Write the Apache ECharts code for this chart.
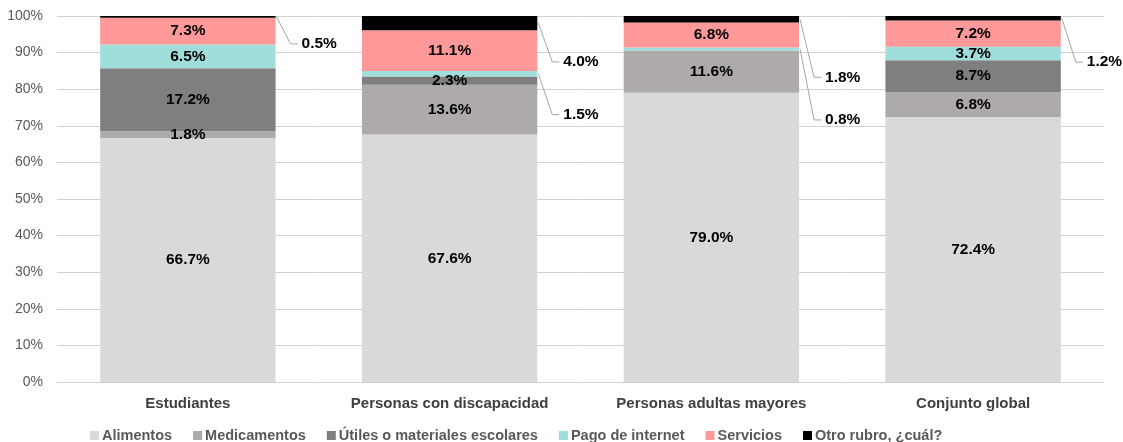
<!DOCTYPE html>
<html><head><meta charset="utf-8">
<script src="https://cdn.jsdelivr.net/npm/echarts@6/dist/echarts.min.js"></script>
<style>html,body{margin:0;padding:0;background:#fff}#c{width:1123px;height:442px}</style>
</head><body><div id="c"></div>
<script>
const categories = ['Estudiantes','Personas con discapacidad','Personas adultas mayores','Conjunto global'];
const seriesNames = ['Alimentos','Medicamentos','Útiles o materiales escolares','Pago de internet','Servicios','Otro rubro, ¿cuál?'];
const alimentos    = [66.7, 67.6, 79.0, 72.4];
const medicamentos = [1.8, 13.6, 11.6, 6.8];
const utiles       = [17.2, 2.3, 0.0, 8.7];
const internet     = [6.5, 1.5, 0.8, 3.7];
const servicios    = [7.3, 11.1, 6.8, 7.2];
const otro         = [0.5, 4.0, 1.8, 1.2];
const yTickValues  = [0,10,20,30,40,50,60,70,80,90,100];
// values labelled outside the bar with a leader line: [seriesIndex, categoryIndex]
const callouts = [[5,0],[5,1],[3,1],[5,2],[3,2],[5,3]];

// layout / style (not data)
const calloutDy = [27, 39, 41, 58, 71, 44];
const colors = ['#d9d9d9','#aeaaaa','#7f7f7f','#a0dedb','#ff9999','#000000'];
const FONT = '"Liberation Sans", Arial, sans-serif';

const allSeries = [alimentos, medicamentos, utiles, internet, servicios, otro];
const isCallout = (s,c) => callouts.some(k => k[0]===s && k[1]===c);

const barSeries = allSeries.map((vals, si) => ({
  name: seriesNames[si],
  type: 'bar',
  stack: 'total',
  barWidth: '67%',
  itemStyle: { color: colors[si] },
  label: {
    show: true, position: 'inside', color: '#000',
    fontFamily: FONT, fontWeight: 'bold', fontSize: 15.5,
    formatter: p => p.value.toFixed(1) + '%'
  },
  data: vals.map((v, ci) => (v === 0 || isCallout(si, ci)) ? { value: v, label: { show: false } } : v)
}));

const calloutData = callouts.map(([si, ci], k) => {
  let below = 0;
  for (let s = 0; s < si; s++) below += allSeries[s][ci];
  const v = allSeries[si][ci];
  return [ci, below + v / 2, v, calloutDy[k]];
});

const calloutSeries = {
  type: 'custom',
  clip: false,
  z: 10,
  silent: true,
  data: calloutData,
  renderItem: (params, api) => {
    const p = api.coord([api.value(0), api.value(1)]);
    const bw = api.size([1, 0])[0] * 0.67;
    const x0 = p[0] + bw / 2 + 1, y0 = p[1];
    const y1 = y0 + api.value(3);
    return {
      type: 'group',
      children: [
        { type: 'polyline', shape: { points: [[x0, y0], [x0 + 14, y1], [x0 + 21, y1]] },
          style: { stroke: '#a6a6a6', lineWidth: 1, fill: null } },
        { type: 'text', style: { x: x0 + 25, y: y1, text: api.value(2).toFixed(1) + '%',
          font: 'bold 15.5px ' + FONT, fill: '#000', verticalAlign: 'middle', align: 'left' } }
      ]
    };
  }
};

const chart = echarts.init(document.getElementById('c'), null, { renderer: 'canvas' });
chart.setOption({
  animation: false,
  backgroundColor: '#fff',
  grid: { left: 57, right: 19, top: 16, bottom: 60 },
  legend: {
    data: seriesNames,
    left: 85, bottom: -6,
    icon: 'rect', itemWidth: 9, itemHeight: 9, itemGap: 21,
    textStyle: { color: '#595959', fontFamily: FONT, fontWeight: 'bold', fontSize: 14.5, padding: [0,0,0,-2] }
  },
  xAxis: {
    type: 'category',
    data: categories,
    axisLine: { lineStyle: { color: '#d0d0d0' } },
    axisTick: { show: false },
    axisLabel: { color: '#404040', fontFamily: FONT, fontWeight: 'bold', fontSize: 15, margin: 14 }
  },
  yAxis: {
    type: 'value',
    min: yTickValues[0], max: yTickValues[yTickValues.length - 1], interval: yTickValues[1] - yTickValues[0],
    axisLine: { show: false }, axisTick: { show: false },
    axisLabel: { color: '#595959', fontFamily: FONT, fontSize: 14, margin: 14, formatter: '{value}%' },
    splitLine: { lineStyle: { color: '#d0d0d0' } }
  },
  series: [...barSeries, calloutSeries]
});
</script>
</body></html>
